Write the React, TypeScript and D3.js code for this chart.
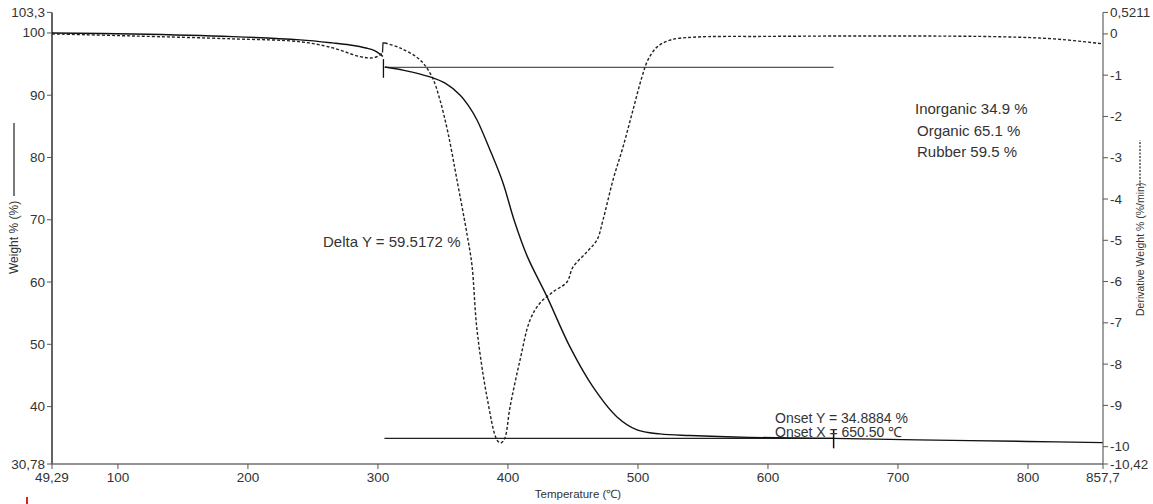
import React from "react";
import * as d3 from "d3";

// ---- data ----
const tempDomain = [49.29, 857.7];
const weightDomain = [30.78, 103.3];
const derivDomain = [-10.42, 0.5211];

const xTicks = [49.29, 100, 200, 300, 400, 500, 600, 700, 800, 857.7];
const weightTicks = [30.78, 40, 50, 60, 70, 80, 90, 100, 103.3];
const derivTicks = [-10.42, -10, -9, -8, -7, -6, -5, -4, -3, -2, -1, 0, 0.5211];

// weight %, first segment (before the step at ~305 °C)
const weightSeg1T = [49.29, 111.6, 188.5, 240.1, 265, 278.5, 291.6, 297, 301.6, 303.8];
const weightSeg1W = [100, 99.84, 99.41, 98.88, 98.4, 98.07, 97.55, 97.2, 96.6, 96.2];
// weight %, second segment
const weightSeg2T = [305.4, 320, 340.1, 352, 363.1, 370, 376.2, 386.2, 396.2, 404.7, 414.7, 430.1, 447.7, 465.4, 483.9, 499.3, 517, 540, 586, 650.5, 715, 800, 857.7];
const weightSeg2W = [94.54, 94.0, 92.94, 91.9, 90.04, 88.2, 86.03, 81.21, 75.92, 69.97, 64.2, 57.61, 49.58, 43.16, 38.34, 36.26, 35.61, 35.35, 35.05, 34.89, 34.65, 34.4, 34.22];

// derivative weight %/min
const derivSeg1T = [49.29, 111.6, 188.5, 240.1, 265.4, 286.2, 296.2, 301.6, 303.5];
const derivSeg1D = [0, -0.05, -0.12, -0.19, -0.34, -0.55, -0.58, -0.51, -0.45];
const derivBracketT = [303.5, 303.9, 305.4];
const derivBracketD = [-0.45, -0.22, -0.22];
const derivSeg2T = [305.4, 317, 332.4, 341.6, 347.7, 353.9, 360.8, 368.5, 372.3, 376.2, 383.9, 391.6, 394.5, 397.5, 401.6, 409.3, 417, 424.7, 434.7, 445.4, 450, 460.8, 468.5, 473.1, 480.8, 488.5, 496.2, 503.1, 507.7, 514.6, 524.7, 542.4, 600, 700, 780, 820, 857.7];
const derivSeg2D = [-0.22, -0.34, -0.63, -1.04, -1.6, -2.4, -3.54, -4.85, -5.6, -7.17, -8.8, -9.84, -9.91, -9.8, -9.04, -7.9, -6.93, -6.52, -6.25, -6.01, -5.65, -5.28, -4.99, -4.51, -3.54, -2.74, -1.84, -1.04, -0.63, -0.32, -0.15, -0.08, -0.06, -0.05, -0.07, -0.12, -0.24];

// analysis marks
const stepT = 305;
const stepMarkW = [95.8, 92.8];
const upperLevelW = 94.46;
const onsetX = 650.5;
const onsetY = 34.8884;
const onsetMarkW = [36.4, 33.3];

const resultLabels = ["Inorganic 34.9 %", "Organic 65.1 %", "Rubber 59.5 %"];
const deltaLabel = "Delta Y = 59.5172 %";
const onsetLabels = ["Onset Y = 34.8884 %", "Onset X = 650.50 \u2103"];

const fmt = (v: number) => String(v).replace(".", ",");

export default function App() {
  const W = 1153, H = 504;
  const left = 52, right = 1103, top = 12.4, bottom = 464;
  const x = d3.scaleLinear().domain(tempDomain).range([left, right]);
  const yW = d3.scaleLinear().domain(weightDomain).range([bottom, top]);
  const yD = d3.scaleLinear().domain(derivDomain).range([bottom, top]);

  const mk = (ts: number[], vs: number[], ys: d3.ScaleLinear<number, number>, curve = true) => {
    const gen = d3.line<[number, number]>().x(d => x(d[0])).y(d => ys(d[1]));
    if (curve) gen.curve(d3.curveCatmullRom.alpha(0.5));
    return gen(ts.map((t, i) => [t, vs[i]] as [number, number])) || "";
  };

  const font = "'Liberation Sans', Arial, sans-serif";
  const txt = "#333";
  const axisGray = "#6f6f6f";
  const tickFs = 13.5;
  const annFs = 15;

  return (
    <svg width={W} height={H} style={{ position: "absolute", left: 0, top: 0, background: "#fff" }} fontFamily={font}>
      <rect x={0} y={0} width={W} height={H} fill="#fff" />
      {/* horizontal analysis lines */}
      <line x1={x(stepT)} x2={x(onsetX)} y1={yW(upperLevelW)} y2={yW(upperLevelW)} stroke="#555" strokeWidth={1.3} />
      <line x1={x(stepT)} x2={x(onsetX)} y1={yW(onsetY)} y2={yW(onsetY)} stroke="#222" strokeWidth={1.2} />
      <line x1={x(stepT) - 1} x2={x(stepT) - 1} y1={yW(stepMarkW[0])} y2={yW(stepMarkW[1])} stroke="#111" strokeWidth={1.3} />
      <line x1={x(onsetX)} x2={x(onsetX)} y1={yW(onsetMarkW[0])} y2={yW(onsetMarkW[1])} stroke="#111" strokeWidth={1.5} />

      {/* curves */}
      <path d={mk(weightSeg1T, weightSeg1W, yW)} fill="none" stroke="#111" strokeWidth={1.4} />
      <path d={mk(weightSeg2T, weightSeg2W, yW)} fill="none" stroke="#111" strokeWidth={1.4} />
      <path d={mk(derivSeg1T, derivSeg1D, yD)} fill="none" stroke="#222" strokeWidth={1.4} strokeDasharray="3,2" />
      <path d={mk(derivBracketT, derivBracketD, yD, false)} fill="none" stroke="#222" strokeWidth={1.3} />
      <path d={mk(derivSeg2T, derivSeg2D, yD)} fill="none" stroke="#222" strokeWidth={1.4} strokeDasharray="3,2" />

      {/* left axis */}
      <line x1={left} x2={left} y1={top} y2={bottom} stroke="#111" strokeWidth={1.3} />
      {weightTicks.map(t => (
        <g key={"w" + t}>
          <line x1={left - 5} x2={left} y1={yW(t)} y2={yW(t)} stroke="#555" />
          <text x={left - 7} y={yW(t) + 4.5} textAnchor="end" fontSize={tickFs} fill={txt}>{fmt(t)}</text>
        </g>
      ))}
      {/* bottom axis */}
      <line x1={left} x2={right} y1={bottom} y2={bottom} stroke={axisGray} strokeWidth={1.3} />
      {xTicks.map(t => (
        <g key={"x" + t}>
          <line x1={x(t)} x2={x(t)} y1={bottom} y2={bottom + 5} stroke="#555" />
          <text x={x(t)} y={bottom + 18} textAnchor="middle" fontSize={tickFs} fill={txt}>{fmt(t)}</text>
        </g>
      ))}
      {/* right axis */}
      <line x1={right} x2={right} y1={top} y2={bottom} stroke={axisGray} strokeWidth={1.3} />
      {derivTicks.map(t => (
        <g key={"d" + t}>
          <line x1={right} x2={right + 5} y1={yD(t)} y2={yD(t)} stroke="#555" />
          <text x={right + 7} y={yD(t) + 4.5} textAnchor="start" fontSize={tickFs} fill={txt}>{fmt(t)}</text>
        </g>
      ))}

      {/* axis titles */}
      <text x={578} y={498} textAnchor="middle" fontSize={11.5} fill={txt}>Temperature (&#8451;)</text>
      <g transform="translate(18,274) rotate(-90)">
        <text x={0} y={0} fontSize={12} fill={txt}>Weight % (%)</text>
        <line x1={78} x2={151} y1={-4} y2={-4} stroke="#222" strokeWidth={1.2} />
      </g>
      <g transform="translate(1144,316) rotate(-90)">
        <text x={0} y={0} fontSize={10.5} fill={txt}>Derivative Weight % (%/min)</text>
        <line x1={130} x2={176} y1={-4} y2={-4} stroke="#222" strokeWidth={1.2} strokeDasharray="2,1.5" />
      </g>

      {/* annotations */}
      <text x={323} y={247} fontSize={annFs} fill={txt}>{deltaLabel}</text>
      {resultLabels.map((s, i) => (
        <text key={s} x={i === 0 ? 915 : 917} y={114 + i * 21.5} fontSize={annFs} fill={txt}>{s}</text>
      ))}
      {onsetLabels.map((s, i) => (
        <text key={s} x={775} y={423 + i * 14} fontSize={14} fill={txt}>{s}</text>
      ))}
      <line x1={27} x2={27} y1={497} y2={504} stroke="#e02020" strokeWidth={2} />
    </svg>
  );
}
